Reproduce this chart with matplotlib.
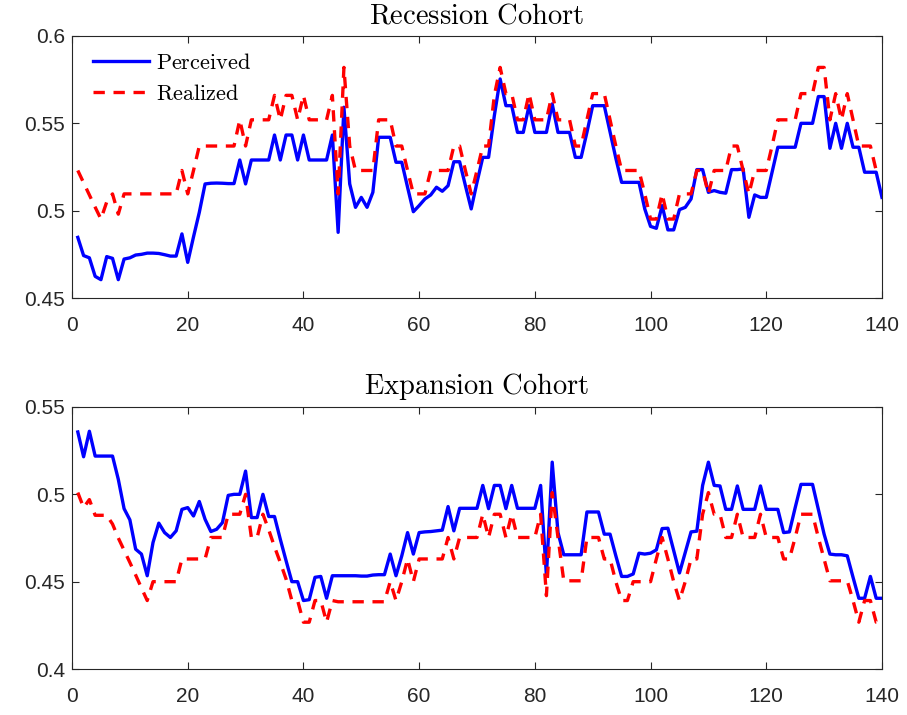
import numpy as np
import matplotlib
matplotlib.use("Agg")
import matplotlib.pyplot as plt

plt.rcParams['mathtext.fontset'] = 'cm'
plt.rcParams['font.family'] = ['Liberation Sans', 'DejaVu Sans']

periods = np.arange(1, 141)

rec_perceived = [
    0.4847, 0.4743, 0.4730, 0.4624, 0.4605, 0.4737, 0.4727, 0.4605, 0.4723, 0.4730,
    0.4746, 0.4750, 0.4757, 0.4757, 0.4755, 0.4748, 0.4740, 0.4740, 0.4867, 0.4704,
    0.4850, 0.4990, 0.5153, 0.5157, 0.5158, 0.5157, 0.5155, 0.5155, 0.5290, 0.5153,
    0.5290, 0.5290, 0.5290, 0.5290, 0.5433, 0.5290, 0.5433, 0.5433, 0.5290, 0.5433,
    0.5290, 0.5290, 0.5290, 0.5290, 0.5433, 0.4876, 0.5592, 0.5153, 0.5019, 0.5076,
    0.5019, 0.5105, 0.5420, 0.5420, 0.5420, 0.5277, 0.5277, 0.5134, 0.4994, 0.5029,
    0.5067, 0.5090, 0.5134, 0.5111, 0.5143, 0.5280, 0.5280, 0.5143, 0.5010, 0.5162,
    0.5305, 0.5305, 0.5544, 0.5754, 0.5601, 0.5601, 0.5448, 0.5448, 0.5601, 0.5448,
    0.5448, 0.5448, 0.5611, 0.5448, 0.5448, 0.5448, 0.5305, 0.5305, 0.5448, 0.5601,
    0.5601, 0.5601, 0.5450, 0.5300, 0.5162, 0.5162, 0.5162, 0.5162, 0.5010, 0.4910,
    0.4899, 0.5029, 0.4890, 0.4890, 0.5006, 0.5019, 0.5067, 0.5235, 0.5235, 0.5105,
    0.5115, 0.5105, 0.5100, 0.5235, 0.5235, 0.5239, 0.4962, 0.5090, 0.5076, 0.5076,
    0.5220, 0.5363, 0.5363, 0.5363, 0.5363, 0.5500, 0.5500, 0.5500, 0.5653, 0.5653,
    0.5357, 0.5500, 0.5357, 0.5500, 0.5363, 0.5363, 0.5220, 0.5220, 0.5220, 0.5076,
]

rec_realized = [
    0.5230, 0.5160, 0.5090, 0.5020, 0.4952, 0.5050, 0.5096, 0.4980, 0.5096, 0.5096,
    0.5096, 0.5096, 0.5096, 0.5096, 0.5096, 0.5096, 0.5096, 0.5096, 0.5230, 0.5096,
    0.5230, 0.5370, 0.5370, 0.5370, 0.5370, 0.5370, 0.5370, 0.5370, 0.5520, 0.5370,
    0.5520, 0.5520, 0.5520, 0.5520, 0.5660, 0.5520, 0.5660, 0.5660, 0.5520, 0.5660,
    0.5520, 0.5520, 0.5520, 0.5520, 0.5660, 0.5096, 0.5820, 0.5370, 0.5230, 0.5230,
    0.5230, 0.5230, 0.5520, 0.5520, 0.5520, 0.5370, 0.5370, 0.5230, 0.5096, 0.5096,
    0.5096, 0.5230, 0.5230, 0.5230, 0.5230, 0.5370, 0.5370, 0.5230, 0.5096, 0.5230,
    0.5370, 0.5370, 0.5660, 0.5820, 0.5670, 0.5670, 0.5520, 0.5520, 0.5670, 0.5520,
    0.5520, 0.5520, 0.5670, 0.5520, 0.5520, 0.5520, 0.5370, 0.5370, 0.5520, 0.5670,
    0.5670, 0.5670, 0.5520, 0.5370, 0.5230, 0.5230, 0.5230, 0.5230, 0.5096, 0.4952,
    0.4952, 0.5096, 0.4952, 0.4952, 0.5096, 0.5096, 0.5096, 0.5230, 0.5230, 0.5096,
    0.5230, 0.5230, 0.5230, 0.5370, 0.5370, 0.5230, 0.5096, 0.5230, 0.5230, 0.5230,
    0.5370, 0.5520, 0.5520, 0.5520, 0.5520, 0.5670, 0.5670, 0.5670, 0.5820, 0.5820,
    0.5520, 0.5670, 0.5520, 0.5670, 0.5520, 0.5370, 0.5370, 0.5370, 0.5230, 0.5230,
]

exp_perceived = [
    0.5357, 0.5215, 0.5361, 0.5219, 0.5219, 0.5219, 0.5219, 0.5086, 0.4918, 0.4854,
    0.4686, 0.4658, 0.4534, 0.4724, 0.4835, 0.4781, 0.4753, 0.4791, 0.4914, 0.4924,
    0.4876, 0.4959, 0.4857, 0.4787, 0.4800, 0.4838, 0.4994, 0.5000, 0.5000, 0.5133,
    0.4867, 0.4867, 0.5000, 0.4873, 0.4873, 0.4743, 0.4620, 0.4500, 0.4500, 0.4392,
    0.4397, 0.4525, 0.4530, 0.4405, 0.4534, 0.4534, 0.4534, 0.4534, 0.4534, 0.4532,
    0.4532, 0.4538, 0.4540, 0.4540, 0.4658, 0.4534, 0.4648, 0.4781, 0.4658, 0.4781,
    0.4785, 0.4787, 0.4791, 0.4795, 0.4930, 0.4791, 0.4920, 0.4920, 0.4920, 0.4920,
    0.5051, 0.4918, 0.5051, 0.5051, 0.4918, 0.5051, 0.4920, 0.4920, 0.4920, 0.4920,
    0.5051, 0.4534, 0.5184, 0.4781, 0.4654, 0.4654, 0.4654, 0.4654, 0.4899, 0.4899,
    0.4899, 0.4772, 0.4772, 0.4648, 0.4530, 0.4530, 0.4544, 0.4663, 0.4658, 0.4663,
    0.4682, 0.4804, 0.4806, 0.4677, 0.4550, 0.4667, 0.4785, 0.4789, 0.5051, 0.5184,
    0.5051, 0.5048, 0.4914, 0.4914, 0.5048, 0.4914, 0.4914, 0.4914, 0.5048, 0.4914,
    0.4914, 0.4914, 0.4781, 0.4785, 0.4924, 0.5057, 0.5057, 0.5057, 0.4914, 0.4772,
    0.4658, 0.4654, 0.4654, 0.4648, 0.4525, 0.4405, 0.4405, 0.4530, 0.4405, 0.4405,
]

exp_realized = [
    0.5010, 0.4924, 0.4970, 0.4880, 0.4880, 0.4880, 0.4830, 0.4750, 0.4680, 0.4610,
    0.4538, 0.4464, 0.4392, 0.4500, 0.4500, 0.4500, 0.4500, 0.4500, 0.4630, 0.4630,
    0.4630, 0.4630, 0.4630, 0.4753, 0.4753, 0.4753, 0.4886, 0.4886, 0.4886, 0.5000,
    0.4753, 0.4753, 0.4886, 0.4797, 0.4700, 0.4610, 0.4515, 0.4392, 0.4392, 0.4268,
    0.4268, 0.4392, 0.4392, 0.4268, 0.4392, 0.4385, 0.4385, 0.4385, 0.4385, 0.4385,
    0.4385, 0.4385, 0.4385, 0.4385, 0.4500, 0.4392, 0.4500, 0.4630, 0.4500, 0.4630,
    0.4630, 0.4630, 0.4630, 0.4630, 0.4753, 0.4630, 0.4753, 0.4753, 0.4753, 0.4753,
    0.4886, 0.4753, 0.4886, 0.4886, 0.4753, 0.4886, 0.4753, 0.4753, 0.4753, 0.4753,
    0.4886, 0.4420, 0.5010, 0.4753, 0.4505, 0.4505, 0.4505, 0.4505, 0.4753, 0.4753,
    0.4753, 0.4630, 0.4630, 0.4500, 0.4392, 0.4392, 0.4500, 0.4500, 0.4500, 0.4500,
    0.4630, 0.4753, 0.4630, 0.4500, 0.4392, 0.4500, 0.4630, 0.4630, 0.4886, 0.5010,
    0.4886, 0.4886, 0.4753, 0.4753, 0.4886, 0.4753, 0.4753, 0.4753, 0.4886, 0.4753,
    0.4753, 0.4753, 0.4630, 0.4630, 0.4753, 0.4886, 0.4886, 0.4886, 0.4753, 0.4630,
    0.4505, 0.4505, 0.4505, 0.4505, 0.4392, 0.4268, 0.4392, 0.4392, 0.4268, 0.4268,
]

rec_yticks = [0.45, 0.5, 0.55, 0.6]
rec_ylabels = ['0.45', '0.5', '0.55', '0.6']
exp_yticks = [0.4, 0.45, 0.5, 0.55]
exp_ylabels = ['0.4', '0.45', '0.5', '0.55']
x_ticks = [0, 20, 40, 60, 80, 100, 120, 140]

fig = plt.figure(figsize=(9.07, 7.15), dpi=100)
ax_top = fig.add_axes([0.0794, 0.5832, 0.8930, 0.3665])
ax_bot = fig.add_axes([0.0794, 0.0643, 0.8930, 0.3665])

spine_color = '#262626'


def draw_panel(ax, perceived, realized, title, yticks, ylabels, ylim, legend):
    ax.plot(periods, perceived, color=(0, 0, 1), lw=2.4, label=r'$\mathrm{Perceived}$')
    ax.plot(periods, realized, color=(1, 0, 0), lw=2.4, linestyle=(0, (3.4, 2.6)),
            label=r'$\mathrm{Realized}$')
    ax.set_xlim(0, 140)
    ax.set_ylim(*ylim)
    ax.set_xticks(x_ticks)
    ax.set_yticks(yticks)
    ax.set_yticklabels(ylabels)
    ax.tick_params(direction='in', length=5, width=0.8, labelsize=15,
                   top=True, right=True, colors=spine_color)
    ax.tick_params(axis='x', pad=13)
    ax.tick_params(axis='y', pad=5)
    for sp in ax.spines.values():
        sp.set_color(spine_color)
        sp.set_linewidth(0.8)
    ax.set_title(title, fontsize=20.5, pad=9, color='black')
    if legend:
        ax.legend(loc='upper left', bbox_to_anchor=(0.026, 0.935), frameon=False,
                  fontsize=16, handlelength=2.5, handletextpad=0.32,
                  borderaxespad=0.0, borderpad=0.0, labelspacing=0.45)


draw_panel(ax_top, rec_perceived, rec_realized, r'$\mathrm{Recession\ Cohort}$',
           rec_yticks, rec_ylabels, (0.45, 0.6), True)
draw_panel(ax_bot, exp_perceived, exp_realized, r'$\mathrm{Expansion\ Cohort}$',
           exp_yticks, exp_ylabels, (0.4, 0.55), False)

fig.savefig('out.png', dpi=100)
